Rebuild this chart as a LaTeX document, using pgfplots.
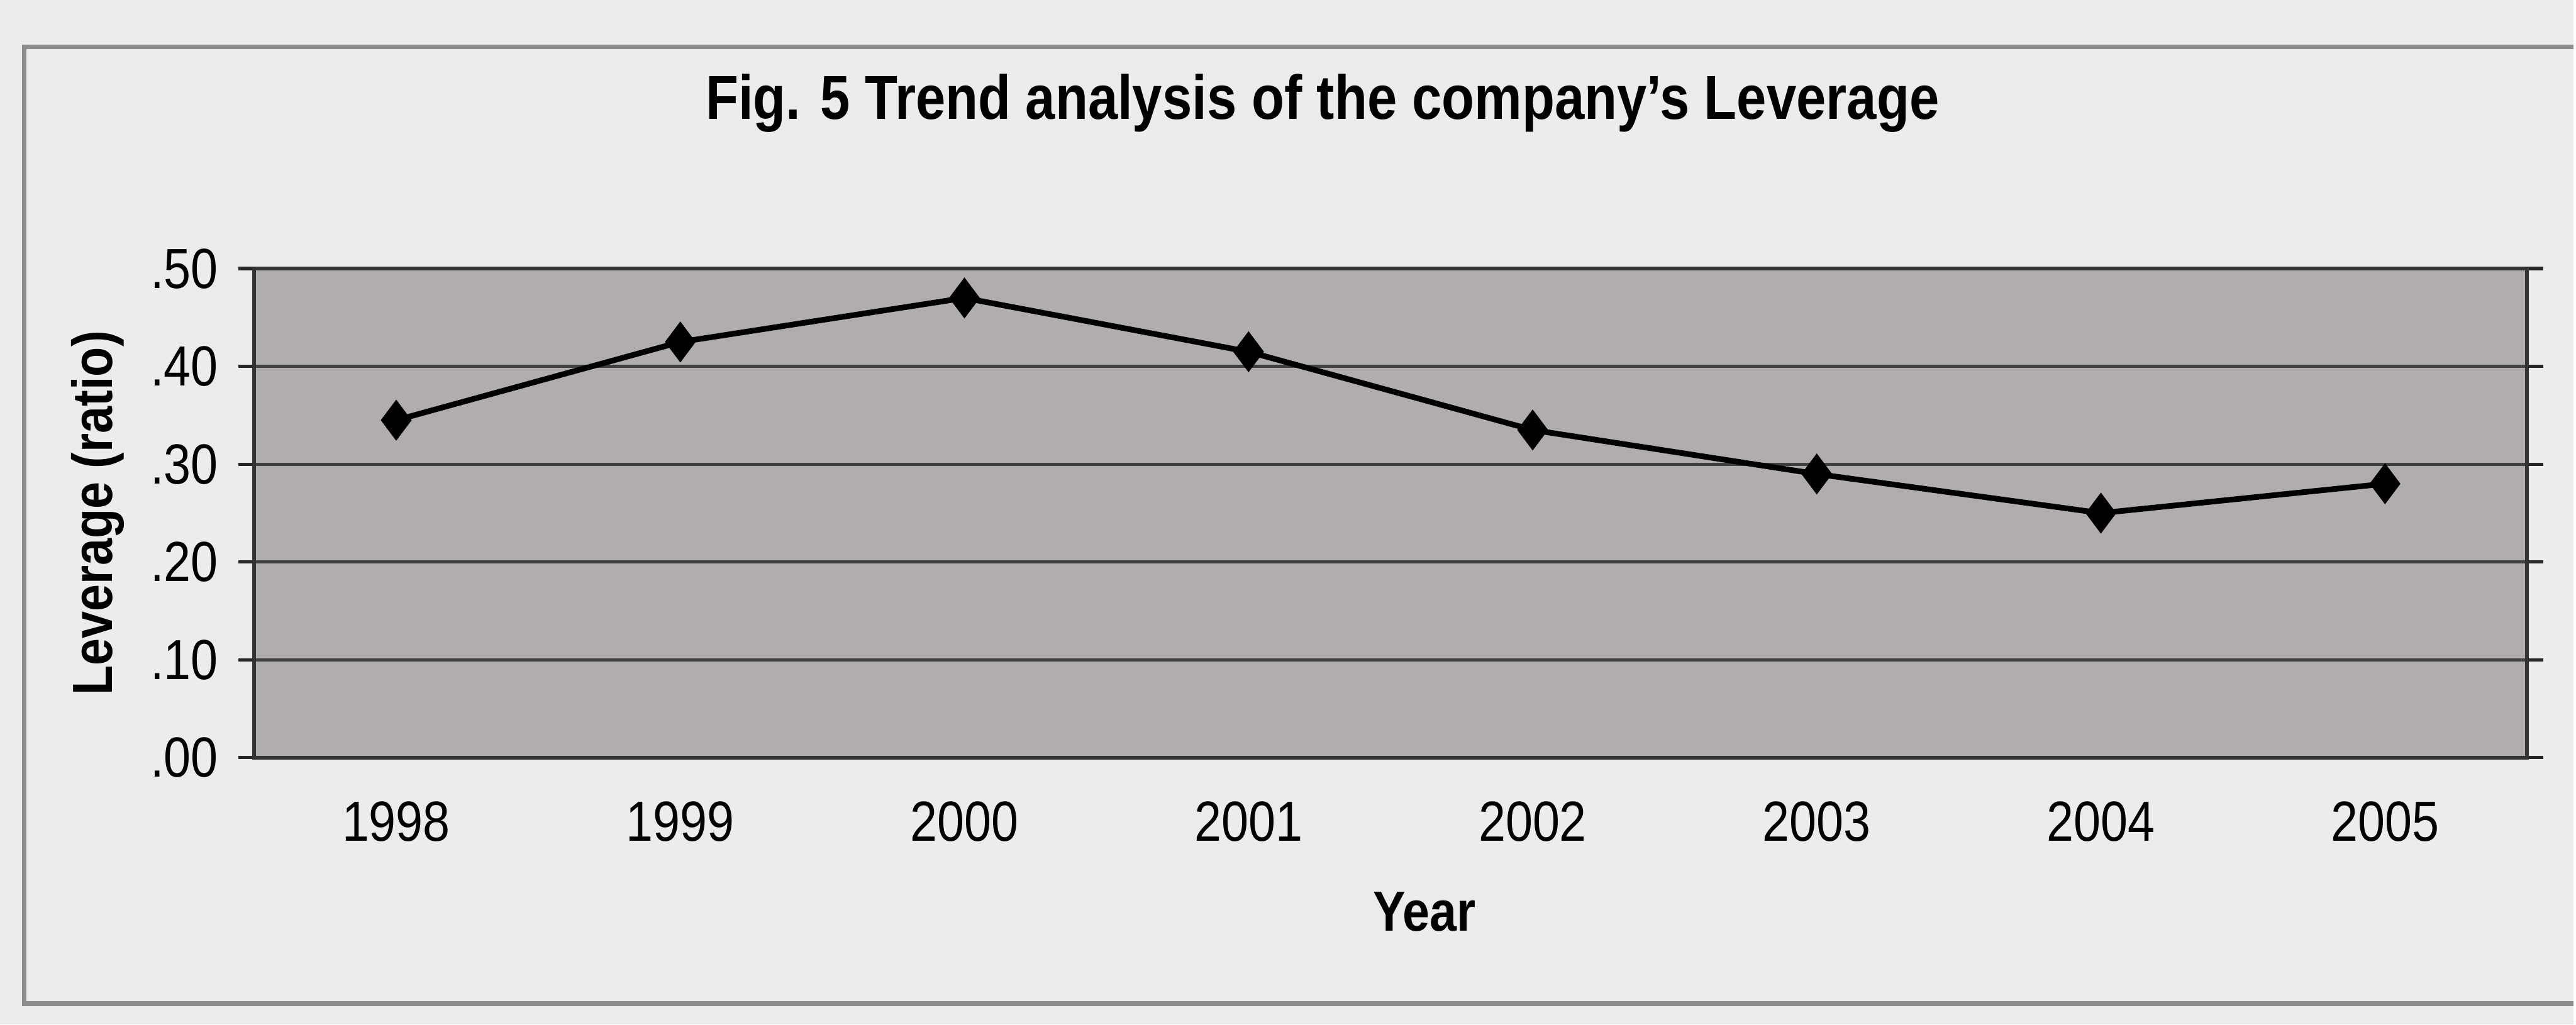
\documentclass[border=0pt]{standalone}
\usepackage{fontspec}
\setmainfont{Liberation Sans}[FakeStretch=0.86]
\usepackage{pgfplots}
\pgfplotsset{compat=1.18}
\usetikzlibrary{backgrounds}
\definecolor{plotgray}{RGB}{176,172,175}
\definecolor{bggray}{RGB}{236,236,236}
\definecolor{framegray}{RGB}{140,140,140}
\begin{document}
\begin{tikzpicture}
\begin{axis}[
  at={(0,0)}, anchor=south west,
  scale only axis, width=14.13cm, height=3.04cm,
  xmin=0.5, xmax=8.5, ymin=0, ymax=0.5,
  xtick={1,2,3,4,5,6,7,8},
  xticklabels={1998,1999,2000,2001,2002,2003,2004,2005},
  x tick style={draw=none},
  extra x ticks={0.5,1.5,2.5,3.5,4.5,5.5,6.5,7.5,8.5},
  extra x tick labels={},
  extra x tick style={tick style={draw=black!85, line width=0.6pt}, major tick length=0.12cm, tick align=outside, grid=none},
  ytick={0,0.1,0.2,0.3,0.4,0.5},
  yticklabels={.00,.10,.20,.30,.40,.50},
  y tick style={draw=black!85, line width=0.6pt},
  tick align=outside, major tick length=0.1cm,
  ymajorgrids, grid style={black!75, line width=0.6pt},
  axis background/.style={fill=plotgray},
  axis line style={black!80, line width=0.7pt},
  tick label style={font=\fontsize{10}{12}\selectfont},
  xticklabel style={yshift=-0.05cm},
  title={Fig. 5 Trend analysis of the company's Leverage},
  title style={at={(axis description cs:0.47,1)}, anchor=base, yshift=0.72cm, font=\bfseries\fontsize{11}{13}\selectfont},
  xlabel={Year},
  xlabel style={at={(axis description cs:0.515,0)}, anchor=base, yshift=-1.08cm, font=\bfseries\fontsize{10}{12}\selectfont},
  ylabel={Leverage (ratio)},
  ylabel style={at={(axis description cs:-0.0687,0.5)}, anchor=center, font=\bfseries\fontsize{10}{12}\selectfont},
]
\addplot[black, line width=1pt, mark=diamond*, mark size=2.8pt, mark options={fill=black}] coordinates {
  (1,0.345) (2,0.425) (3,0.47) (4,0.415) (5,0.335) (6,0.29) (7,0.25) (8,0.28)
};
\end{axis}
\begin{scope}[on background layer]
  \fill[bggray] (-1.58,-1.66) rectangle (14.42,4.71);
  \draw[framegray, line width=0.8pt] (14.42,4.42) -- (-1.43,4.42) -- (-1.43,-1.53) -- (14.42,-1.53);
\end{scope}
\end{tikzpicture}
\end{document}
